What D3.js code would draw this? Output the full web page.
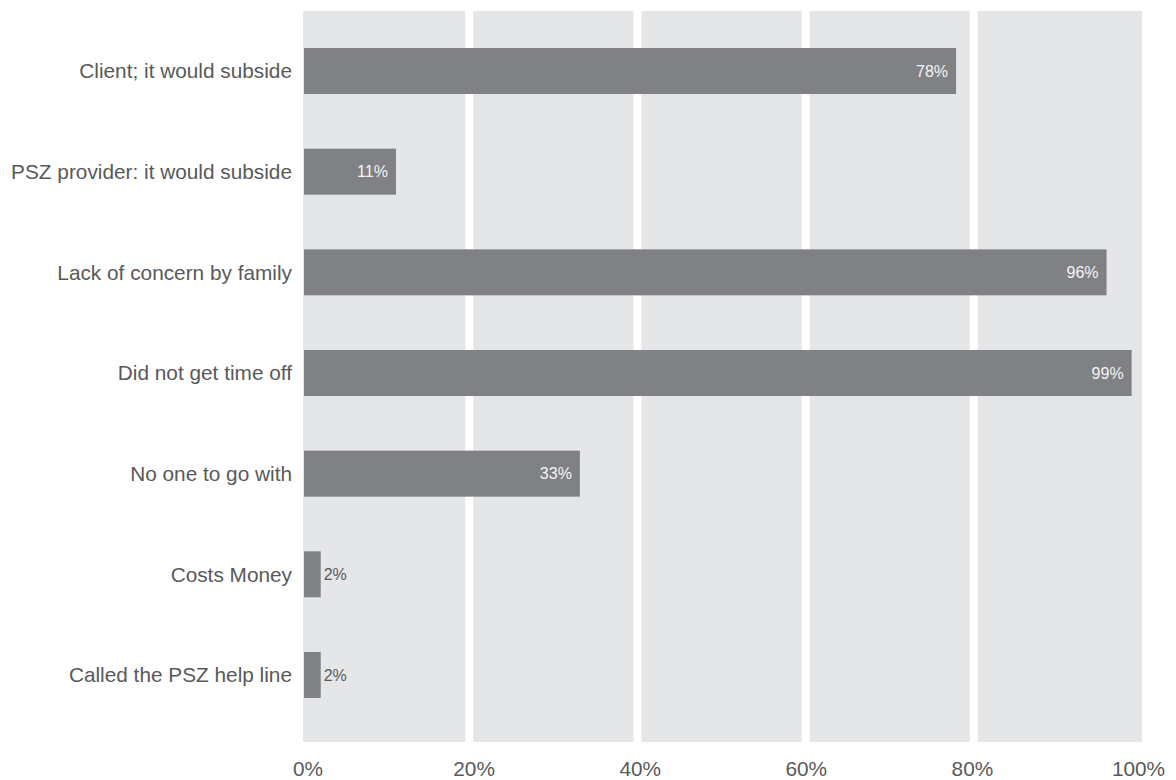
<!DOCTYPE html>
<html>
<head>
<meta charset="utf-8">
<script src="https://cdn.jsdelivr.net/npm/d3@7/dist/d3.min.js"></script>
<style>
  html, body { margin: 0; padding: 0; background: #ffffff; }
  svg { display: block; font-family: "Liberation Sans", Arial, Helvetica, sans-serif; }
</style>
</head>
<body>
<svg id="chart" width="1176" height="780"></svg>
<script>
const categories = [
  "Client; it would subside",
  "PSZ provider: it would subside",
  "Lack of concern by family",
  "Did not get time off",
  "No one to go with",
  "Costs Money",
  "Called the PSZ help line"
];
const values = [78, 11, 96, 99, 33, 2, 2];
const tickValues = [0, 20, 40, 60, 80, 100];
const tickLabels = ["0%", "20%", "40%", "60%", "80%", "100%"];
const gridValues = [20, 40, 60, 80];

const svg = d3.select("#chart");

const x = d3.scaleLinear().domain([0, 100]).range([304, 1140]);
const xGrid = d3.scaleLinear().domain([0, 100]).range([301, 1142]);
const xLabel = d3.scaleLinear().domain([0, 100]).range([308, 1138.5]);
const y = d3.scaleBand().domain(categories).range([20.7, 725.3]).paddingInner(0.543).paddingOuter(0.2715);

// plot background
svg.append("rect")
  .attr("x", 303).attr("y", 11)
  .attr("width", 1142 - 303).attr("height", 742 - 11)
  .attr("fill", "#e5e6e8");

// white vertical gridlines
svg.append("g").selectAll("rect").data(gridValues).join("rect")
  .attr("x", d => xGrid(d) - 4)
  .attr("y", 11)
  .attr("width", 8)
  .attr("height", 742 - 11)
  .attr("fill", "#ffffff");

// bars
svg.append("g").selectAll("rect").data(values).join("rect")
  .attr("x", x(0))
  .attr("y", (d, i) => y(categories[i]))
  .attr("width", d => x(d) - x(0))
  .attr("height", y.bandwidth())
  .attr("fill", "#808185");

// value labels
svg.append("g").selectAll("text").data(values).join("text")
  .attr("x", d => d >= 10 ? x(d) - 8 : x(d) + 3)
  .attr("y", (d, i) => y(categories[i]) + y.bandwidth() / 2)
  .attr("dy", "0.35em")
  .attr("text-anchor", d => d >= 10 ? "end" : "start")
  .attr("font-size", "16px")
  .attr("fill", d => d >= 10 ? "#f4f4f4" : "#595959")
  .text(d => d + "%");

// category labels
svg.append("g").selectAll("text").data(categories).join("text")
  .attr("x", 292)
  .attr("y", d => y(d) + y.bandwidth() / 2)
  .attr("dy", "0.35em")
  .attr("text-anchor", "end")
  .attr("font-size", "20.8px")
  .attr("fill", "#595959")
  .text(d => d);

// x tick labels
svg.append("g").selectAll("text").data(tickValues).join("text")
  .attr("x", d => xLabel(d))
  .attr("y", 776)
  .attr("text-anchor", "middle")
  .attr("font-size", "20.8px")
  .attr("fill", "#595959")
  .text((d, i) => tickLabels[i]);
</script>
</body>
</html>
